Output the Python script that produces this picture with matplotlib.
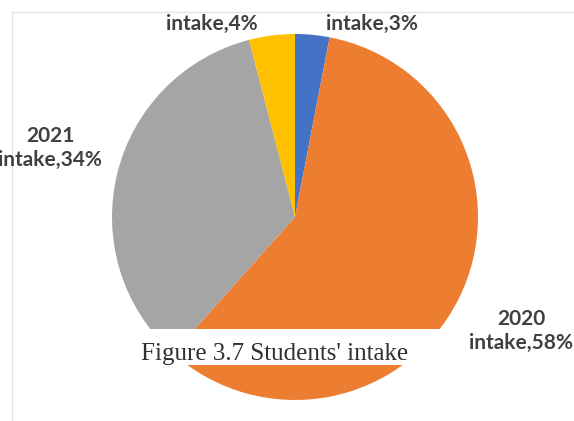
import matplotlib.pyplot as plt
from matplotlib.lines import Line2D
from matplotlib.patches import Rectangle
from matplotlib.transforms import Bbox

# student intake share per year
years = ["2019", "2020", "2021", "2022"]
shares = [3, 58, 34, 4]
colors = ["#4472C4", "#ED7D31", "#A5A5A5", "#FFC000"]

W, H = 574, 421
fig = plt.figure(figsize=(W / 100, H / 100), dpi=100)

# pie centred at (295, 217) px with radius 183 px
cx, cy, r = 295, 217, 183
ax = fig.add_axes([(cx - r) / W, (H - cy - r) / H, 2 * r / W, 2 * r / H])
ax.pie(shares, colors=colors, startangle=90, counterclock=False, radius=1)
ax.set_xlim(-1, 1)
ax.set_ylim(-1, 1)
ax.axis("off")

# label anchors (px, baseline of the last line)
label_pos = [(372, 30), (521, 349), (50, 166), (212, 30)]
clip = Bbox.from_extents(0, 0, W, H - 12)
for yr, s, (px, py) in zip(years, shares, label_pos):
    t = fig.text(px / W, (H - py) / H, f"{yr}\nintake,{s}%",
                 ha="center", va="baseline", fontsize=15, fontweight="bold",
                 family=["Lato", "DejaVu Sans"], color="#404040",
                 linespacing=1.22, multialignment="center", zorder=7)
    t.set_clip_box(clip)
    t.set_clip_on(True)

# thin frame lines along top and left
fig.add_artist(Line2D([12 / W, 1], [(H - 12) / H] * 2, color="#e4e4e4", lw=1))
fig.add_artist(Line2D([12 / W] * 2, [0, (H - 12) / H], color="#e4e4e4", lw=1))

# caption strip across the lower part of the pie
fig.add_artist(Rectangle((110 / W, (H - 365) / H), 350 / W, 36 / H,
                         transform=fig.transFigure, facecolor="white",
                         edgecolor="none", zorder=5))
fig.text(275 / W, (H - 360) / H, "Figure 3.7 Students' intake", ha="center",
         va="baseline", fontsize=18, family="Liberation Serif", color="#303030",
         zorder=6)

fig.savefig("out.png", dpi=100)
